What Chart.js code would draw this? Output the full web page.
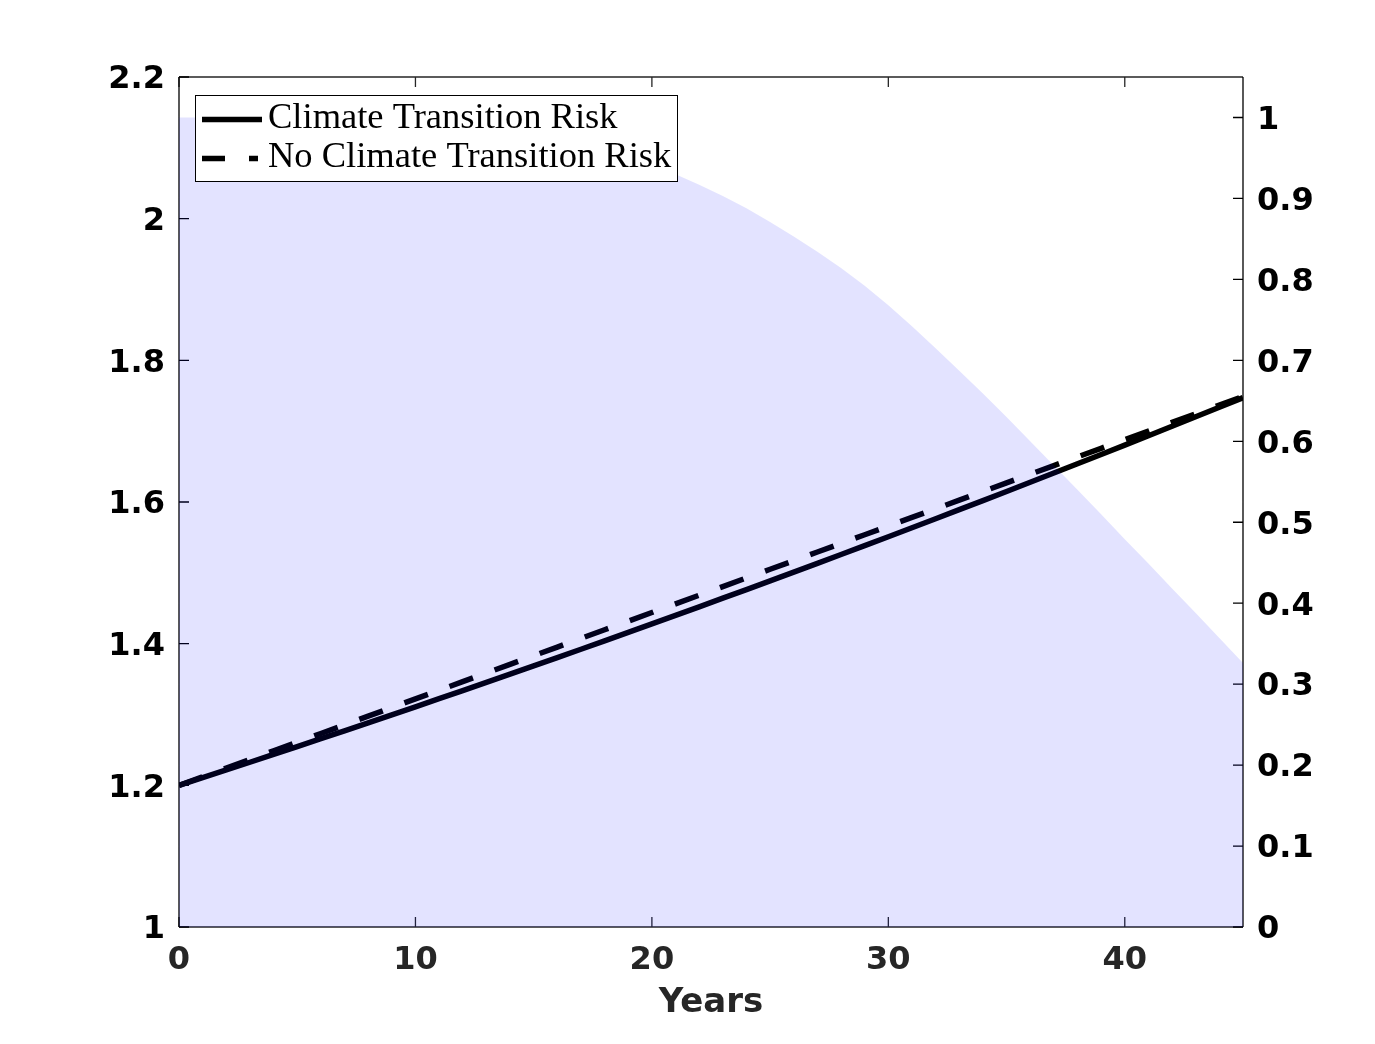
<!DOCTYPE html>
<html><head><meta charset="utf-8">
<script src="https://cdn.jsdelivr.net/npm/chart.js@4"></script>
<style>html,body{margin:0;padding:0;background:#fff;} canvas{display:block;}</style>
</head><body>
<canvas id="c" width="1375" height="1044"></canvas>
<script>
const years = [0,1,2,3,4,5,6,7,8,9,10,11,12,13,14,15,16,17,18,19,20,21,22,23,24,25,26,27,28,29,30,31,32,33,34,35,36,37,38,39,40,41,42,43,44,45];
const climateRisk = [1.200,1.2108,1.2217,1.2326,1.2436,1.2547,1.2658,1.2770,1.2882,1.2995,1.3109,1.3223,1.3338,1.3453,1.3569,1.3686,1.3803,1.3921,1.4040,1.4159,1.4279,1.4399,1.4520,1.4642,1.4764,1.4887,1.5010,1.5134,1.5259,1.5384,1.5510,1.5637,1.5764,1.5892,1.6020,1.6149,1.6279,1.6409,1.6540,1.6671,1.6803,1.6936,1.7069,1.7203,1.7338,1.7473];
const noClimateRisk = [1.200,1.2122,1.2244,1.2366,1.2488,1.2610,1.2732,1.2854,1.2976,1.3098,1.3220,1.3342,1.3464,1.3586,1.3708,1.3830,1.3952,1.4074,1.4196,1.4318,1.4440,1.4562,1.4684,1.4806,1.4928,1.5050,1.5172,1.5294,1.5416,1.5538,1.5660,1.5782,1.5904,1.6026,1.6148,1.6270,1.6392,1.6514,1.6636,1.6758,1.6880,1.7002,1.7124,1.7246,1.7368,1.7490];
const probability = [1.000,1.000,1.000,1.000,1.000,1.000,1.000,1.000,1.000,1.000,1.000,1.000,0.999,0.997,0.993,0.988,0.982,0.974,0.965,0.955,0.943,0.930,0.917,0.903,0.888,0.871,0.853,0.834,0.814,0.792,0.768,0.742,0.715,0.687,0.659,0.630,0.600,0.570,0.540,0.510,0.479,0.449,0.418,0.388,0.357,0.326];
const xTicks = [0,10,20,30,40];
const leftTicks = [1,1.2,1.4,1.6,1.8,2,2.2];
const rightTicks = [0,0.1,0.2,0.3,0.4,0.5,0.6,0.7,0.8,0.9,1];
const seriesLabels = ['Climate Transition Risk','No Climate Transition Risk'];
const xTitle = 'Years';

const toXY = arr => years.map((t,i)=>({x:t,y:arr[i]}));
const fmt = v => String(Math.round(v*10)/10);

const framePlugin = {
  id:'frame',
  beforeDatasetsDraw(chart){
    const {ctx, chartArea:a, scales} = chart;
    ctx.save();
    ctx.lineWidth = 1.3;
    ctx.setLineDash([]);
    ctx.strokeStyle = '#262626';
    ctx.beginPath();
    scales.x.ticks.forEach(t => {
      const px = scales.x.getPixelForValue(t.value);
      ctx.moveTo(px,a.bottom); ctx.lineTo(px,a.bottom-10);
      ctx.moveTo(px,a.top); ctx.lineTo(px,a.top+10);
    });
    ctx.moveTo(a.left,a.bottom); ctx.lineTo(a.right,a.bottom);
    ctx.moveTo(a.left,a.top); ctx.lineTo(a.right,a.top);
    ctx.stroke();
    ctx.strokeStyle = '#000';
    ctx.beginPath();
    scales.y.ticks.forEach(t => {
      const py = scales.y.getPixelForValue(t.value);
      ctx.moveTo(a.left,py); ctx.lineTo(a.left+10,py);
    });
    scales.y2.ticks.forEach(t => {
      const py = scales.y2.getPixelForValue(t.value);
      ctx.moveTo(a.right,py); ctx.lineTo(a.right-10,py);
    });
    ctx.moveTo(a.left,a.top); ctx.lineTo(a.left,a.bottom);
    ctx.moveTo(a.right,a.top); ctx.lineTo(a.right,a.bottom);
    ctx.stroke();
    ctx.restore();
  }
};

const legendPlugin = {
  id:'boxLegend',
  afterDraw(chart){
    const {ctx, chartArea:a} = chart;
    const x0=a.left+16, y0=a.top+18, w=482, h=86;
    ctx.save();
    ctx.fillStyle='#fff'; ctx.fillRect(x0,y0,w,h);
    ctx.strokeStyle='#000'; ctx.lineWidth=1; ctx.setLineDash([]);
    ctx.strokeRect(x0+0.5,y0+0.5,w,h);
    const ds = chart.data.datasets.filter(d=>d.inLegend);
    ds.forEach((d,i)=>{
      const cy = y0 + 24.5 + i*39;
      ctx.beginPath();
      ctx.setLineDash(d.borderDash ? [23,24] : []);
      ctx.lineWidth=5.5; ctx.lineCap='butt'; ctx.strokeStyle='#000';
      ctx.moveTo(x0+7, cy); ctx.lineTo(x0+(d.borderDash?63:67), cy); ctx.stroke();
      ctx.setLineDash([]);
      ctx.fillStyle='#000'; ctx.font='36.5px "Liberation Serif"'; ctx.textBaseline='alphabetic'; ctx.textAlign='left';
      ctx.fillText(d.label, x0+73, cy+8);
    });
    ctx.restore();
  }
};

new Chart(document.getElementById('c'), {
  type:'line',
  data:{
    datasets:[
      {label:'probability', data:toXY(probability), yAxisID:'y2', fill:'origin',
       backgroundColor:'rgba(0,0,255,0.11)', borderWidth:0, pointRadius:0, tension:0, inLegend:false},
      {label:seriesLabels[0], data:toXY(climateRisk), yAxisID:'y', fill:false,
       borderColor:'#000', borderWidth:5.5, pointRadius:0, tension:0, inLegend:true},
      {label:seriesLabels[1], data:toXY(noClimateRisk), yAxisID:'y', fill:false,
       borderColor:'#000', borderWidth:5.5, borderDash:[25,23], borderCapStyle:'butt', pointRadius:0, tension:0, inLegend:true}
    ]
  },
  options:{
    responsive:false, animation:false, devicePixelRatio:1,
    layout:{padding:{top:77,left:0,right:0,bottom:0}},
    plugins:{legend:{display:false}, tooltip:{enabled:false}},
    scales:{
      x:{type:'linear', min:0, max:45, position:'bottom',
        grid:{display:false, drawTicks:false}, border:{display:false},
        afterBuildTicks:s=>{s.ticks = xTicks.map(v=>({value:v}));},
        afterFit:s=>{s.height=117;},
        ticks:{padding:14, color:'#262626', font:{family:'DejaVu Sans', weight:'bold', size:32}, callback:v=>String(v), maxRotation:0, autoSkip:false},
        title:{display:true, text:xTitle, color:'#262626', font:{family:'DejaVu Sans', weight:'bold', size:34}, padding:{top:20,bottom:20}}
      },
      y:{type:'linear', min:1, max:2.2, position:'left',
        grid:{display:false, drawTicks:false}, border:{display:false},
        afterBuildTicks:s=>{s.ticks = leftTicks.map(v=>({value:v}));},
        afterFit:s=>{s.width=179;},
        ticks:{padding:14, labelOffset:3, color:'#000', font:{family:'DejaVu Sans', weight:'bold', size:32}, callback:v=>fmt(v), autoSkip:false}
      },
      y2:{type:'linear', min:0, max:1.05, position:'right',
        grid:{display:false, drawTicks:false}, border:{display:false},
        afterBuildTicks:s=>{s.ticks = rightTicks.map(v=>({value:v}));},
        afterFit:s=>{s.width=132;},
        ticks:{padding:14, labelOffset:3, color:'#000', font:{family:'DejaVu Sans', weight:'bold', size:32}, callback:v=>fmt(v), autoSkip:false}
      }
    }
  },
  plugins:[framePlugin, legendPlugin]
});
</script>
</body></html>
